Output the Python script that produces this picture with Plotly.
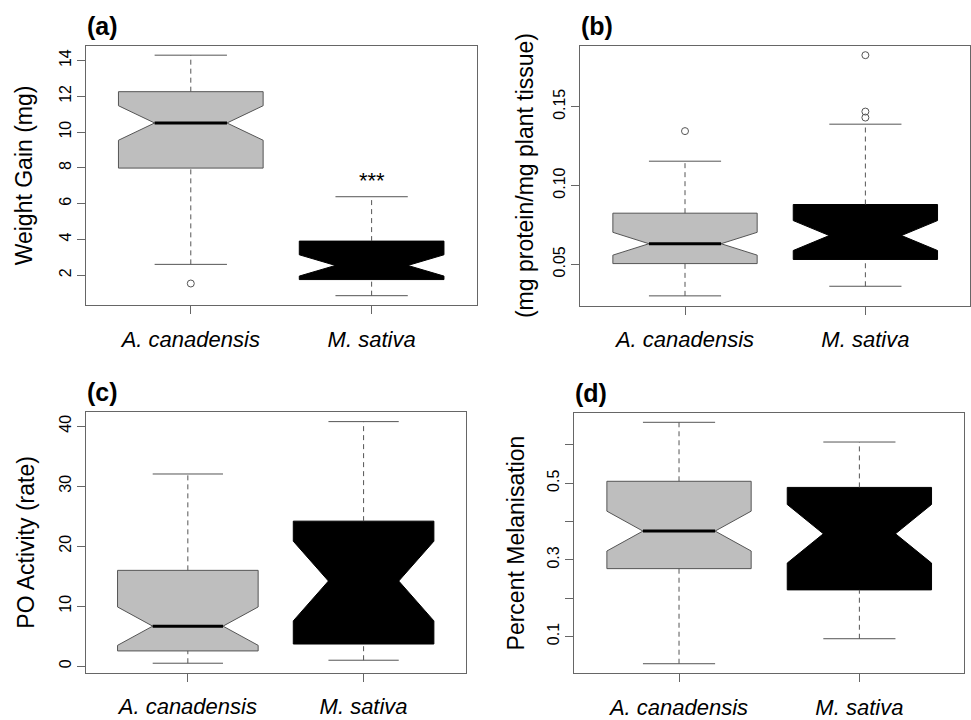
import plotly.graph_objects as go

categories = ["A. canadensis", "M. sativa"]
positions = [1, 2]
fills = ["#bebebe", "#000000"]

# Panel (a): Weight Gain (mg)
a_q1 = [7.99, 1.76]
a_med = [10.51, 2.55]
a_q3 = [12.26, 3.91]
a_lo = [2.61, 0.86]
a_hi = [14.30, 6.39]
a_notch = [0.965, 0.595]
a_out = [[1.54], []]
a_ticks = [2, 4, 6, 8, 10, 12, 14]
a_ticktext = ["2", "4", "6", "8", "10", "12", "14"]

# Panel (b): protein
b_q1 = [0.0504, 0.0530]
b_med = [0.0630, 0.0682]
b_q3 = [0.0824, 0.0879]
b_lo = [0.0299, 0.0360]
b_hi = [0.1154, 0.1389]
b_notch = [0.00725, 0.0095]
b_out = [[0.1345], [0.1431, 0.1469, 0.1827]]
b_ticks = [0.05, 0.10, 0.15]
b_ticktext = ["0.05", "0.10", "0.15"]

# Panel (c): PO Activity (rate)
c_q1 = [2.55, 3.70]
c_med = [6.68, 14.20]
c_q3 = [15.98, 24.18]
c_lo = [0.50, 1.00]
c_hi = [32.04, 40.77]
c_notch = [3.20, 6.64]
c_out = [[], []]
c_ticks = [0, 10, 20, 30, 40]
c_ticktext = ["0", "10", "20", "30", "40"]

# Panel (d): Percent Melanisation
d_q1 = [0.277, 0.2215]
d_med = [0.375, 0.368]
d_q3 = [0.505, 0.489]
d_lo = [0.0287, 0.094]
d_hi = [0.659, 0.6075]
d_notch = [0.052, 0.0765]
d_out = [[], []]
d_ticks = [0.1, 0.2, 0.3, 0.4, 0.5, 0.6]
d_ticktext = ["0.1", "", "0.3", "", "0.5", ""]

panels = [
    dict(tag="(a)", ytitle="Weight Gain (mg)", q1=a_q1, med=a_med, q3=a_q3, lo=a_lo, hi=a_hi,
         notch=a_notch, out=a_out, ticks=a_ticks, ticktext=a_ticktext,
         px=(86, 477), py=(46, 308.3), standoff=17),
    dict(tag="(b)", ytitle="(mg protein/mg plant tissue)", q1=b_q1, med=b_med, q3=b_q3, lo=b_lo, hi=b_hi,
         notch=b_notch, out=b_out, ticks=b_ticks, ticktext=b_ticktext,
         px=(581, 972), py=(46, 308.5), standoff=10),
    dict(tag="(c)", ytitle="PO Activity (rate)", q1=c_q1, med=c_med, q3=c_q3, lo=c_lo, hi=c_hi,
         notch=c_notch, out=c_out, ticks=c_ticks, ticktext=c_ticktext,
         px=(86, 466), py=(416, 679.5), standoff=15),
    dict(tag="(d)", ytitle="Percent Melanisation", q1=d_q1, med=d_med, q3=d_q3, lo=d_lo, hi=d_hi,
         notch=d_notch, out=d_out, ticks=d_ticks, ticktext=d_ticktext,
         px=(575, 965), py=(416.7, 680), standoff=13),
]

W, H = 971, 720
BOXW = 0.8
HALF_CAP = BOXW / 4
LINEC = "#555555"
FRAMEC = "#666666"
FONT = "Liberation Sans"

fig = go.Figure()
layout_axes = {}
annotations = []

for i, p in enumerate(panels):
    n = "" if i == 0 else str(i + 1)
    xa, ya = "x" + n, "y" + n
    for j in range(2):
        fig.add_trace(go.Box(
            x=[positions[j]], q1=[p["q1"][j]], median=[p["med"][j]], q3=[p["q3"][j]],
            lowerfence=[p["q1"][j]], upperfence=[p["q3"][j]],
            notched=True, notchspan=[p["notch"][j]], notchwidth=0.25,
            width=BOXW, whiskerwidth=0, fillcolor=fills[j],
            line=dict(color=LINEC if j == 0 else "#000000", width=1),
            boxpoints=False, showlegend=False, hoverinfo="skip",
            xaxis=xa, yaxis=ya,
        ))
        pos = positions[j]
        # dashed whiskers
        fig.add_trace(go.Scatter(
            x=[pos, pos, None, pos, pos],
            y=[p["q3"][j], p["hi"][j], None, p["lo"][j], p["q1"][j]],
            mode="lines", line=dict(color=LINEC, width=1, dash="5px,4px"),
            showlegend=False, hoverinfo="skip", xaxis=xa, yaxis=ya,
        ))
        # staples
        fig.add_trace(go.Scatter(
            x=[pos - HALF_CAP, pos + HALF_CAP, None, pos - HALF_CAP, pos + HALF_CAP],
            y=[p["hi"][j], p["hi"][j], None, p["lo"][j], p["lo"][j]],
            mode="lines", line=dict(color=LINEC, width=1),
            showlegend=False, hoverinfo="skip", xaxis=xa, yaxis=ya,
        ))
        # median bar
        fig.add_trace(go.Scatter(
            x=[pos - HALF_CAP, pos + HALF_CAP], y=[p["med"][j], p["med"][j]],
            mode="lines", line=dict(color="#000000", width=3),
            showlegend=False, hoverinfo="skip", xaxis=xa, yaxis=ya,
        ))
        # outliers
        if p["out"][j]:
            fig.add_trace(go.Scatter(
                x=[pos] * len(p["out"][j]), y=p["out"][j], mode="markers",
                marker=dict(symbol="circle-open", size=7, color=LINEC, line=dict(width=1, color=LINEC)),
                showlegend=False, hoverinfo="skip", xaxis=xa, yaxis=ya,
            ))

    vals = p["lo"] + p["hi"] + [v for o in p["out"] for v in o]
    lo, hi = min(vals), max(vals)
    span = hi - lo
    yr = [lo - 0.04 * span, hi + 0.04 * span]

    x0, x1 = p["px"]
    y0, y1 = p["py"]
    layout_axes["xaxis" + n] = dict(
        domain=[x0 / W, min(x1 / W, 1.0)], anchor=ya, range=[0.42, 2.58],
        tickvals=positions, ticktext=categories, ticks="outside", ticklen=8,
        tickcolor=FRAMEC, showline=True, linecolor=FRAMEC, linewidth=1, mirror=True,
        showgrid=False, zeroline=False, fixedrange=True,
        tickfont=dict(family=FONT, size=22, color="#000000", style="italic"),
        ticklabelstandoff=6,
    )
    layout_axes["yaxis" + n] = dict(
        domain=[1 - y1 / H, 1 - y0 / H], anchor=xa, range=yr,
        tickvals=p["ticks"], ticktext=p["ticktext"], ticks="outside", ticklen=8,
        tickcolor=FRAMEC, showline=True, linecolor=FRAMEC, linewidth=1, mirror=True,
        showgrid=False, zeroline=False, tickangle=-90, fixedrange=True,
        tickfont=dict(family=FONT, size=16, color="#000000"),
        title=dict(text=p["ytitle"], font=dict(family=FONT, size=23, color="#000000"),
                   standoff=p["standoff"]),
    )
    annotations.append(dict(
        text="<b>" + p["tag"] + "</b>", xref="paper", yref="paper",
        x=(x0 - 1) / W, y=1 - (y0 - 20) / H, xanchor="left", yanchor="middle",
        showarrow=False, font=dict(family=FONT, size=25, color="#000000"),
    ))

# significance marker above M. sativa in panel (a)
annotations.append(dict(
    text="***", xref="x", yref="y", x=positions[1], y=a_hi[1], xanchor="center",
    yanchor="bottom", yshift=2, showarrow=False,
    font=dict(family=FONT, size=22, color="#000000"),
))

fig.update_layout(
    width=W, height=H, margin=dict(l=0, r=0, t=0, b=0),
    paper_bgcolor="white", plot_bgcolor="white",
    annotations=annotations, showlegend=False, **layout_axes,
)

fig.write_html("out.html")
